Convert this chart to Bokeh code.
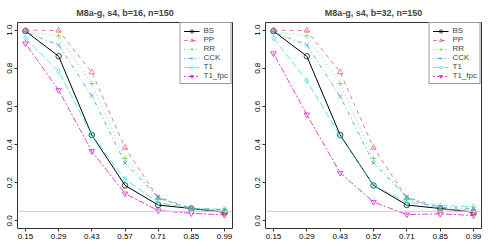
from bokeh.plotting import figure
from bokeh.layouts import row
from bokeh.models import FixedTicker, PrintfTickFormatter, Span, Legend
from bokeh.embed import file_html
from bokeh.resources import INLINE

x_vals = [0.15, 0.29, 0.43, 0.57, 0.71, 0.85, 0.99]
x_ticks = [0.15, 0.29, 0.43, 0.57, 0.71, 0.85, 0.99]
y_ticks = [0.0, 0.2, 0.4, 0.6, 0.8, 1.0]
series_names = ["BS", "PP", "RR", "CCK", "T1", "T1_fpc"]

titles = ["M8a-g, s4, b=16, n=150", "M8a-g, s4, b=32, n=150"]

# panel 1 (b=16)
bs_16 = [0.995, 0.863, 0.450, 0.186, 0.083, 0.065, 0.045]
pp_16 = [1.000, 0.998, 0.779, 0.384, 0.120, 0.062, 0.050]
rr_16 = [0.995, 0.969, 0.720, 0.327, 0.117, 0.063, 0.055]
cck_16 = [0.990, 0.922, 0.656, 0.303, 0.125, 0.066, 0.058]
t1_16 = [0.958, 0.783, 0.450, 0.219, 0.096, 0.065, 0.061]
t1fpc_16 = [0.930, 0.685, 0.365, 0.143, 0.054, 0.040, 0.031]

# panel 2 (b=32)
bs_32 = [0.995, 0.863, 0.450, 0.186, 0.083, 0.065, 0.045]
pp_32 = [1.000, 0.998, 0.779, 0.384, 0.120, 0.060, 0.055]
rr_32 = [0.995, 0.969, 0.720, 0.327, 0.117, 0.060, 0.060]
cck_32 = [0.990, 0.922, 0.652, 0.303, 0.125, 0.070, 0.065]
t1_32 = [0.958, 0.734, 0.445, 0.186, 0.097, 0.080, 0.075]
t1fpc_32 = [0.878, 0.557, 0.252, 0.099, 0.033, 0.037, 0.028]

ref_level = 0.05

colors = ["#000000", "#DF536B", "#61D04F", "#2297E6", "#28E2E5", "#CD0BBC"]
dashes = ["solid", "4 4", "1 3", "1 3 4 3", "7 3", "2 2 6 2"]
markers = ["circle", "triangle", "cross", "x", "diamond", "inverted_triangle"]
FONT = "Liberation Sans"

panels = [
    [bs_16, pp_16, rr_16, cck_16, t1_16, t1fpc_16],
    [bs_32, pp_32, rr_32, cck_32, t1_32, t1fpc_32],
]


def make_panel(title, data, width, min_left, min_right):
    p = figure(width=width, height=241, x_range=(0.1164, 1.0236), y_range=(-0.04, 1.04),
               output_backend="svg", toolbar_location=None,
               min_border_left=min_left, min_border_right=min_right,
               min_border_top=16, min_border_bottom=0)
    p.title.text = title
    p.title.align = "center"
    p.title.text_font = FONT
    p.title.text_font_size = "9px"
    p.title.text_font_style = "bold"
    p.title.offset = 0
    p.grid.visible = False
    p.outline_line_color = "#333333"
    p.outline_line_width = 1
    for ax in (p.xaxis[0], p.yaxis[0]):
        ax.axis_line_color = None
        ax.major_tick_out = 3
        ax.major_tick_in = 0
        ax.minor_tick_out = 0
        ax.minor_tick_in = 0
        ax.major_tick_line_color = "#333333"
        ax.major_label_text_font = FONT
        ax.major_label_text_font_size = "8px"
        ax.major_label_text_color = "#000000"
        ax.major_label_standoff = 2
    p.xaxis.ticker = FixedTicker(ticks=x_ticks)
    p.xaxis.formatter = PrintfTickFormatter(format="%.2f")
    p.yaxis.ticker = FixedTicker(ticks=y_ticks)
    p.yaxis.formatter = PrintfTickFormatter(format="%.1f")
    p.yaxis.major_label_orientation = "vertical"

    p.add_layout(Span(location=ref_level, dimension="width", line_color="#cccccc", line_width=1))

    items = []
    for name, ys, c, d, m in zip(series_names, data, colors, dashes, markers):
        alpha = 1.0 if name == "BS" else 0.75
        l = p.line(x_vals, ys, line_color=c, line_dash=d, line_width=1, line_alpha=alpha)
        s = p.scatter(x_vals, ys, marker=m, size=5.5, line_color=c, fill_color=None,
                      line_width=0.8, line_alpha=0.9)
        items.append((name, [l, s]))
    leg = Legend(items=items, location="top_right", margin=0, padding=3, spacing=0,
                 label_text_font=FONT, label_text_font_size="8px", label_height=8,
                 glyph_height=8, glyph_width=16, label_standoff=4,
                 border_line_color="#333333", border_line_width=1,
                 background_fill_color="white", background_fill_alpha=1.0)
    p.add_layout(leg)
    return p


p1 = make_panel(titles[0], panels[0], 248, 17, 16)
p2 = make_panel(titles[1], panels[1], 242, 17, 9)
layout = row(p1, p2)

open("out.html", "w").write(file_html(layout, INLINE))
